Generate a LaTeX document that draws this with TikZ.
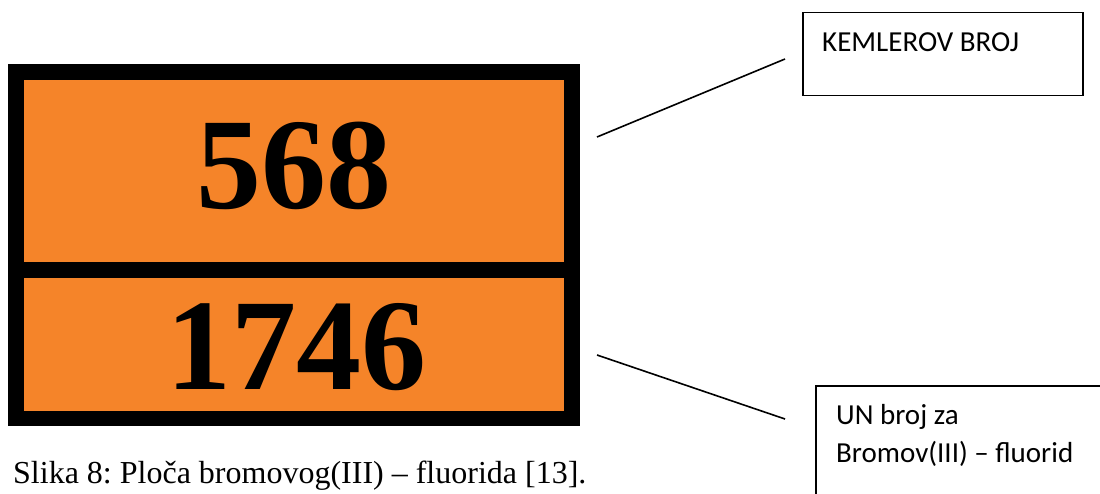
\documentclass[tikz,border=0pt]{standalone}
\usepackage{fontspec}
\setmainfont{Liberation Serif}
\newfontfamily\calibri{Carlito}
\definecolor{plateorange}{RGB}{245,132,41}
\frenchspacing
\begin{document}
\begin{tikzpicture}[x=1pt,y=-1pt,
  panel/.style={fill=plateorange, inner sep=0pt, anchor=north west},
  digits/.style={font=\fontsize{130}{130}\selectfont\bfseries, inner sep=0pt, anchor=base},
  labelbox/.style={draw=black, line width=1.5pt, inner sep=0pt, anchor=north west},
  labeltext/.style={font=\calibri\fontsize{29}{38}\selectfont, inner sep=0pt, anchor=base west},
  leader/.style={draw=black, line width=1.6pt}]
\clip (0,0) rectangle (1100,494);
\fill[white] (0,0) rectangle (1100,494);
% plate
\node[fill=black, inner sep=0pt, anchor=north west, minimum width=572pt, minimum height=362pt] (plate) at (8,64) {};
\node[panel, minimum width=540pt, minimum height=182pt] (top) at (24,80) {};
\node[panel, minimum width=540pt, minimum height=133pt] (bottom) at (24,278) {};
\node[digits] (hazard) at (294,209) {568};
\node[digits] (un) at (296,389) {1746};
% caption
\node[font=\fontsize{32}{38}\selectfont, inner sep=0pt, anchor=base west] (caption) at (13,483) {Slika 8: Ploča bromovog(III) – fluorida [13].};
% label boxes
\node[labelbox, minimum width=280pt, minimum height=83pt] (kemler) at (802,12) {};
\node[labeltext] (kemlertext) at (822,52) {KEMLEROV BROJ};
\node[labelbox, minimum width=300pt, minimum height=140pt] (unbox) at (815,385) {};
\node[labeltext] (untext1) at (836,424) {UN broj za};
\node[labeltext] (untext2) at (836,462) {Bromov(III) – fluorid};
% leaders
\coordinate (l1a) at (597,137);
\coordinate (l1b) at (785,59);
\coordinate (l2a) at (597,355);
\coordinate (l2b) at (785,419);
\draw[leader] (l1a) -- (l1b);
\draw[leader] (l2a) -- (l2b);
\end{tikzpicture}
\end{document}
